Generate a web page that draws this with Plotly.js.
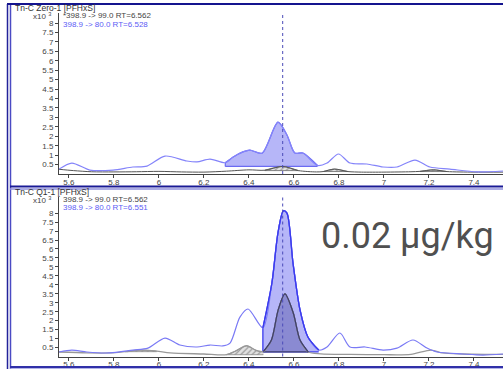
<!DOCTYPE html>
<html>
<head>
<meta charset="utf-8">
<script src="https://cdn.plot.ly/plotly-3.0.1.min.js"></script>
<style>
  html, body { margin: 0; padding: 0; background: #fff; }
  #chart { width: 503px; height: 369px; }
</style>
</head>
<body>
<div id="chart"></div>
<script>
// ---- Tn-C Zero-1 [PFHxS] ----
const zeroQualTime = [5.556, 5.62, 5.70, 5.80, 5.90, 6.00, 6.10, 6.20, 6.30, 6.40, 6.47, 6.55, 6.62, 6.70, 6.73, 6.78, 6.84, 6.90, 7.00, 7.12, 7.16, 7.22, 7.28, 7.40, 7.529];
const zeroQualAbund = [0.25, 0.18, 0.12, 0.11, 0.12, 0.14, 0.11, 0.10, 0.15, 0.22, 0.20, 0.40, 0.18, 0.11, 0.13, 0.26, 0.13, 0.10, 0.10, 0.12, 0.14, 0.22, 0.13, 0.10, 0.10];
const zeroQuantTime = [5.556, 5.613, 5.693, 5.796, 5.884, 5.947, 6.027, 6.124, 6.169, 6.227, 6.295, 6.33, 6.373, 6.404, 6.458, 6.529, 6.569, 6.604, 6.64, 6.705, 6.747, 6.798, 6.849, 6.924, 6.996, 7.058, 7.138, 7.204, 7.293, 7.413, 7.529];
const zeroQuantAbund = [0.26, 0.58, 0.21, 0.21, 0.37, 0.42, 0.95, 0.69, 0.64, 0.79, 0.60, 0.90, 1.17, 1.27, 1.10, 2.75, 2.07, 1.11, 1.11, 0.45, 0.58, 1.06, 0.58, 0.53, 0.37, 0.37, 0.74, 0.37, 0.26, 0.11, 0.16];
const zeroQuantPeak = [6.295, 6.705];          // integrated window, 80.0 transition
const zeroQualHatch = [[6.47, 6.62], [6.73, 6.84], [7.16, 7.28]];
const zeroLegend = ["*398.9 -> 99.0 RT=6.562", "398.9 -> 80.0 RT=6.528"];
const zeroRT = 6.55;

// ---- Tn-C Q1-1 [PFHxS] ----
const q1QualTime = [5.556, 5.68, 5.782, 5.85, 5.92, 5.99, 6.05, 6.20, 6.30, 6.34, 6.39, 6.43, 6.464, 6.50, 6.53, 6.56, 6.597, 6.627, 6.664, 6.72, 6.85, 7.00, 7.12, 7.21, 7.26, 7.35, 7.45, 7.529];
const q1QualAbund = [0.25, 0.20, 0.20, 0.27, 0.36, 0.30, 0.20, 0.14, 0.10, 0.30, 0.60, 0.35, 0.27, 0.92, 2.60, 3.49, 2.43, 0.92, 0.25, 0.15, 0.12, 0.10, 0.12, 0.36, 0.20, 0.14, 0.12, 0.12];
const q1QuantTime = [5.556, 5.613, 5.68, 5.782, 5.884, 5.951, 6.027, 6.093, 6.169, 6.227, 6.284, 6.316, 6.36, 6.396, 6.462, 6.502, 6.529, 6.553, 6.569, 6.596, 6.627, 6.662, 6.71, 6.747, 6.804, 6.849, 6.916, 6.996, 7.058, 7.129, 7.191, 7.236, 7.351, 7.44, 7.529];
const q1QuantAbund = [0.25, 0.36, 0.25, 0.20, 0.36, 0.47, 1.03, 0.64, 0.53, 0.64, 0.59, 0.75, 2.20, 2.65, 1.60, 4.10, 6.90, 8.13, 8.00, 5.20, 2.60, 1.09, 0.36, 0.53, 1.31, 0.53, 0.53, 0.36, 0.47, 0.92, 0.47, 0.25, 0.14, 0.08, 0.14];
const q1QuantPeak = [6.462, 6.71];
const q1QualPeak = [6.464, 6.664];
const q1QualHatch = [[5.85, 5.99], [6.30, 6.464]];
const q1Legend = ["398.9 -> 99.0 RT=6.562", "398.9 -> 80.0 RT=6.551"];
const q1RT = 6.55;
const q1Conc = "0.02 µg/kg";

// ---- shared axes ----
const rtTicks = [5.6, 5.8, 6.0, 6.2, 6.4, 6.6, 6.8, 7.0, 7.2, 7.4];
const rtTickText = ["5.6", "5.8", "6", "6.2", "6.4", "6.6", "6.8", "7", "7.2", "7.4"];
const abundTicks = [0.5, 1, 1.5, 2, 2.5, 3, 3.5, 4, 4.5, 5, 5.5, 6, 6.5, 7, 7.5, 8];
const rtRange = [5.556, 7.529];

// ---- drawing helpers ----
const W = 503, H = 369;
const px = x => x / W;
const py = y => 1 - y / H;
const FONT = "Liberation Sans, Arial, sans-serif";
const BLUE_LINE = "#6b6bf2";
const BLUE_FILL = "#b6b6f8";
const DARK_FILL = "#8a8ad2";

function window_(t, v, lo, hi) {
  const xs = [], ys = [];
  t.forEach((tt, i) => { if (tt >= lo - 1e-9 && tt <= hi + 1e-9) { xs.push(tt); ys.push(v[i]); } });
  return { xs, ys };
}

// baseline + curve pair filled between them
function peakFill(t, v, lo, hi, base, ax, fillSpec, edgeColor, edgeWidth) {
  const w = window_(t, v, lo, hi);
  const b = (base === null) ? Math.min(w.ys[0], w.ys[w.ys.length - 1]) : base;
  const baseTrace = {
    x: [lo, hi], y: [b, b], xaxis: ax.x, yaxis: ax.y, mode: "lines",
    line: { color: edgeColor, width: edgeWidth }, hoverinfo: "skip"
  };
  const curve = Object.assign({
    x: w.xs, y: w.ys, xaxis: ax.x, yaxis: ax.y, mode: "lines",
    line: { color: edgeColor, width: edgeWidth, shape: "spline", smoothing: 0.8 },
    fill: "tonexty", hoverinfo: "skip"
  }, fillSpec);
  const edge = {
    x: [lo, lo], y: [b, w.ys[0]], xaxis: ax.x, yaxis: ax.y, mode: "lines",
    line: { color: edgeColor, width: edgeWidth }, hoverinfo: "skip"
  };
  return [baseTrace, curve, edge];
}

function lineTrace(t, v, ax, color, width) {
  return {
    x: t, y: v, xaxis: ax.x, yaxis: ax.y, mode: "lines",
    line: { color: color, width: width, shape: "spline", smoothing: 0.8 }, hoverinfo: "skip"
  };
}

const hatch = {
  fillpattern: { shape: "/", fgcolor: "#8c8c8c", bgcolor: "#e2e2e2", size: 4, solidity: 0.25 }
};

const AX1 = { x: "x", y: "y" };
const AX2 = { x: "x2", y: "y2" };
let traces = [];

// top panel
traces = traces.concat(peakFill(zeroQuantTime, zeroQuantAbund, zeroQuantPeak[0], zeroQuantPeak[1], 0.40, AX1,
  { fillcolor: BLUE_FILL }, BLUE_LINE, 1.2));
zeroQualHatch.forEach(r => {
  traces = traces.concat(peakFill(zeroQualTime, zeroQualAbund, r[0], r[1], null, AX1, hatch, "#666", 0.8));
});
traces.push(lineTrace(zeroQualTime, zeroQualAbund, AX1, "#555", 1));
traces.push(lineTrace(zeroQuantTime, zeroQuantAbund, AX1, "#8484fa", 1.2));

// bottom panel
q1QualHatch.forEach(r => {
  traces = traces.concat(peakFill(q1QualTime, q1QualAbund, r[0], r[1], null, AX2, hatch, "#888", 0.8));
});
traces = traces.concat(peakFill(q1QuantTime, q1QuantAbund, q1QuantPeak[0], q1QuantPeak[1], 0.26, AX2,
  { fillcolor: BLUE_FILL }, "#3a3aee", 1.3));
traces = traces.concat(peakFill(q1QualTime, q1QualAbund, q1QualPeak[0], q1QualPeak[1], 0.26, AX2,
  { fillcolor: DARK_FILL }, "#3d3d6a", 1.2));
traces.push(lineTrace(q1QualTime, q1QualAbund, AX2, "#999", 1.3));
traces.push(lineTrace(q1QuantTime, q1QuantAbund, AX2, "#7a7af5", 1.2));

// re-stroke the integrated outlines above the raw traces
const q1QuantWin = window_(q1QuantTime, q1QuantAbund, q1QuantPeak[0], q1QuantPeak[1]);
const q1QualWin = window_(q1QualTime, q1QualAbund, q1QualPeak[0], q1QualPeak[1]);
traces.push(lineTrace(q1QuantWin.xs, q1QuantWin.ys, AX2, "#3a3aee", 1.3));
traces.push(lineTrace(q1QualWin.xs, q1QualWin.ys, AX2, "#3d3d6a", 1.2));

function xAxis(anchor) {
  return {
    domain: [px(59), 1], range: rtRange, anchor: anchor,
    showgrid: false, zeroline: false, showline: true, linecolor: "#444", linewidth: 1,
    ticks: "outside", ticklen: 3, tickcolor: "#444", tickwidth: 1,
    ticklabelstandoff: -3,
    tickvals: rtTicks, ticktext: rtTickText,
    tickfont: { family: FONT, size: 8, color: "#444" }, fixedrange: true
  };
}
function yAxis(anchor, domain, top) {
  return {
    domain: domain, range: [0, top], anchor: anchor,
    showgrid: false, zeroline: false, showline: true, linecolor: "#444", linewidth: 1,
    ticks: "outside", ticklen: 3, tickcolor: "#444", tickwidth: 1,
    tickvals: abundTicks, ticktext: abundTicks.map(String),
    tickfont: { family: FONT, size: 8, color: "#444" }, fixedrange: true
  };
}

const txt = (x, y, text, color, size, anchor) => ({
  xref: "paper", yref: "paper", x: px(x), y: py(y), text: text, showarrow: false,
  xanchor: anchor || "left", yanchor: "middle",
  font: { family: FONT, size: size || 8, color: color || "#333" }
});

const annotations = [
  txt(13, 8, "Tn-C Zero-1 [PFHxS]", "#333", 8.5),
  txt(53, 16, "x10 <sup>3</sup>", "#444", 8, "right"),
  txt(61, 15, zeroLegend[0], "#444", 8),
  txt(61, 24, zeroLegend[1], "#5c5cf5", 8),
  txt(13, 192, "Tn-C Q1-1 [PFHxS]", "#333", 8.5),
  txt(53, 200, "x10 <sup>3</sup>", "#444", 8, "right"),
  txt(61, 199, q1Legend[0], "#444", 8),
  txt(61, 207, q1Legend[1], "#5c5cf5", 8),
  {
    xref: "paper", yref: "paper", x: px(319), y: py(236), text: q1Conc, showarrow: false,
    xanchor: "left", yanchor: "middle",
    font: { family: "Roboto, sans-serif", size: 36, color: "#505050" }
  }
];

const hline = (y, x0, x1, color, w) => ({
  type: "line", xref: "paper", yref: "paper", x0: px(x0), x1: px(x1), y0: py(y), y1: py(y),
  line: { color: color, width: w }
});
const vline = (x, y0, y1, color, w) => ({
  type: "line", xref: "paper", yref: "paper", x0: px(x), x1: px(x), y0: py(y0), y1: py(y1),
  line: { color: color, width: w }
});

const shapes = [
  // retention-time markers
  { type: "line", xref: "x", yref: "y domain", x0: zeroRT, x1: zeroRT, y0: 0, y1: 1,
    line: { color: "#4a4ab8", width: 1, dash: "dot" } },
  { type: "line", xref: "x2", yref: "y2 domain", x0: q1RT, x1: q1RT, y0: 0, y1: 1.01,
    line: { color: "#4a4ab8", width: 1, dash: "dot" } },
  // window frame
  vline(7.5, 4, 369, "#22229a", 1.5),
  vline(10.5, 4, 369, "#4b4bc4", 1.5),
  hline(4, 7, 503, "#14148e", 2),
  hline(186.5, 10, 503, "#1a1a96", 2),
  hline(189, 10, 503, "#8f8fdc", 1.5),
  hline(367, 10, 503, "#3030a8", 2),
  hline(369, 10, 503, "#9a9ae0", 1.5)
];

const layout = {
  width: W, height: H,
  margin: { l: 0, r: 0, t: 0, b: 0, pad: 0 },
  paper_bgcolor: "#fff", plot_bgcolor: "#fff",
  showlegend: false,
  xaxis: xAxis("y"),
  yaxis: yAxis("x", [py(174), py(13)], 8.53),
  xaxis2: xAxis("y2"),
  yaxis2: yAxis("x2", [py(356.5), py(197)], 8.9),
  annotations: annotations,
  shapes: shapes
};

Plotly.newPlot("chart", traces, layout, { staticPlot: true, displayModeBar: false });
</script>
</body>
</html>
